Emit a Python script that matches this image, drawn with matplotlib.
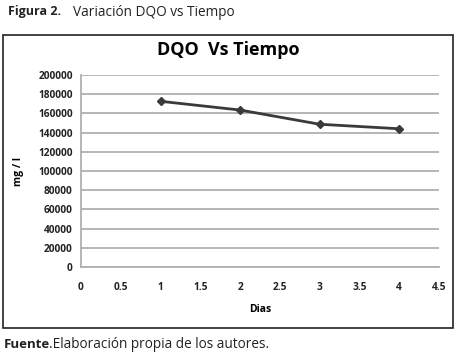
import matplotlib.pyplot as plt
from matplotlib.patches import Rectangle

# datos
dias = [1, 2, 3, 4]
dqo = [172600, 163500, 148700, 144000]
x_ticks = [0, 0.5, 1, 1.5, 2, 2.5, 3, 3.5, 4, 4.5]
x_labels = ["0", "0.5", "1", "1.5", "2", "2.5", "3", "3.5", "4", "4.5"]
y_ticks = list(range(0, 200001, 20000))

plt.rcParams["font.family"] = ["Open Sans", "DejaVu Sans"]

W, H = 459, 355
fig = plt.figure(figsize=(W / 100, H / 100), dpi=100)

# marco exterior del grafico
fig.patches.append(Rectangle((3 / W, 1 - 328 / H), 450 / W, 293 / H, transform=fig.transFigure,
                             fill=False, edgecolor="#222222", linewidth=1.2))

ax = fig.add_axes([81 / W, 1 - 267 / H, 358 / W, 192 / H])
ax.plot(dias, dqo, color="#3a3a3a", linewidth=2, marker="D", markersize=4.5)
ax.set_xlim(0, 4.5)
ax.set_ylim(0, 200000)
ax.set_xticks(x_ticks)
ax.set_xticklabels(x_labels)
ax.set_yticks(y_ticks)
ax.set_yticklabels([str(v) for v in y_ticks])
ax.tick_params(length=0, labelsize=7.3, pad=6)
for lab in ax.get_xticklabels() + ax.get_yticklabels():
    lab.set_fontweight("bold")
    lab.set_color("#222222")
ax.tick_params(axis="x", pad=11)
ax.grid(axis="y", color="#b0b0b0", linewidth=1.3)
for s in ["top", "right"]:
    ax.spines[s].set_visible(False)
for s in ["left", "bottom"]:
    ax.spines[s].set_color("#b0b0b0")
    ax.spines[s].set_linewidth(1.3)

ax.set_xlabel("Dias", fontsize=7.5, fontweight="bold", labelpad=8)
ax.set_ylabel("mg / l", fontsize=7.5, fontweight="bold", labelpad=10)
fig.text(228 / W, 1 - 50 / H, "DQO  Vs Tiempo", fontsize=13, fontweight="bold", ha="center", va="center")

fig.text(8 / W, 1 - 12 / H, "Figura 2.", fontsize=9, fontweight="bold", color="#222222", va="center")
fig.text(73 / W, 1 - 12 / H, "Variación DQO vs Tiempo", fontsize=9.8, color="#222222", va="center")
fig.text(4 / W, 1 - 344 / H, "Fuente", fontsize=9.5, fontweight="bold", color="#222222", va="center")
fig.text(49 / W, 1 - 344 / H, ".Elaboración propia de los autores.", fontsize=9.8, color="#222222",
         va="center")

fig.savefig("out.png", dpi=100)
